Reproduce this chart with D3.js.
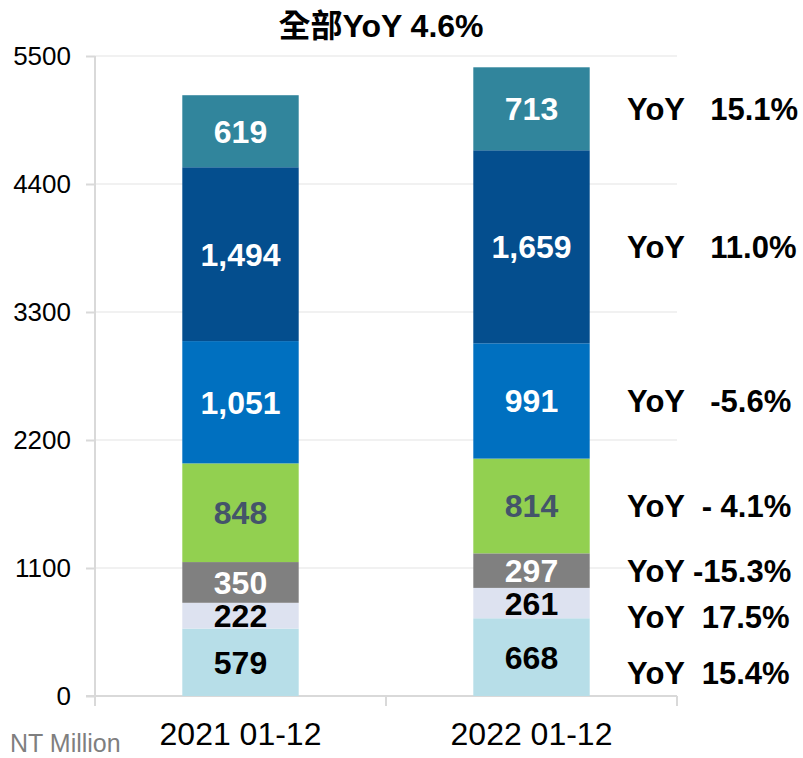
<!DOCTYPE html>
<html>
<head>
<meta charset="utf-8">
<script src="https://cdn.jsdelivr.net/npm/d3@7"></script>
<style>
  body { margin: 0; background: #fff; }
  text { font-family: "Liberation Sans", Arial, "Noto Sans CJK TC", sans-serif; }
</style>
</head>
<body>
<div id="chart"></div>
<script>
// Data
var categories = ["2021 01-12", "2022 01-12"];
var segments = ["s1", "s2", "s3", "s4", "s5", "s6", "s7"]; // bottom to top
var values2021 = [579, 222, 350, 848, 1051, 1494, 619];
var values2022 = [668, 261, 297, 814, 991, 1659, 713];
var yoyLabels = ["YoY  15.4%", "YoY  17.5%", "YoY -15.3%", "YoY  - 4.1%", "YoY   -5.6%", "YoY   11.0%", "YoY   15.1%"];
var yTicks = [0, 1100, 2200, 3300, 4400, 5500];
var title = "全部YoY 4.6%";
var unitLabel = "NT Million";

var colors = ["#b7dee8", "#dde2f0", "#808080", "#92d050", "#0070c0", "#044e8e", "#31859c"];
var labelColors = ["#000", "#000", "#fff", "#44546a", "#fff", "#fff", "#fff"];

var svgWidth = 803;
var svgHeight = 758;
var margin = { top: 56, right: 126, bottom: 62, left: 95 };
var width = svgWidth - margin.left - margin.right;
var height = svgHeight - margin.top - margin.bottom;

var svg = d3.select("#chart")
    .append("svg")
    .attr("width", svgWidth)
    .attr("height", svgHeight);

var chartGroup = svg.append("g")
    .attr("transform", `translate(${margin.left}, ${margin.top})`);

// table for stacking
var rows = categories.map(function (c, i) {
    var row = { cat: c };
    var vals = i === 0 ? values2021 : values2022;
    segments.forEach(function (s, j) { row[s] = vals[j]; });
    return row;
});
var stacked = d3.stack().keys(segments)(rows);

// scales
var xScale = d3.scaleBand().domain(categories).range([0, width])
    .paddingInner(0.6).paddingOuter(0.3);
var yScale = d3.scaleLinear().domain([0, 5500]).range([height, 0]);

// gridlines
chartGroup.append("g")
    .selectAll("line")
    .data(yTicks)
    .enter()
    .append("line")
    .attr("x1", 0)
    .attr("x2", width)
    .attr("y1", d => yScale(d))
    .attr("y2", d => yScale(d))
    .attr("stroke", "#ededed")
    .attr("stroke-width", 1.5);

// y axis
var leftAxis = d3.axisLeft(yScale).tickValues(yTicks).tickFormat(d3.format("d"))
    .tickSize(9).tickPadding(15);
var yAxisG = chartGroup.append("g").call(leftAxis);
yAxisG.select(".domain").attr("stroke", "#d9d9d9").attr("stroke-width", 2).attr("d", `M0,0V${height}`);
yAxisG.selectAll(".tick line").attr("stroke", "#d9d9d9").attr("stroke-width", 2);
yAxisG.selectAll(".tick text")
    .attr("font-size", 26)
    .attr("fill", "#000")
    .style("font-family", "'Liberation Sans', Arial, sans-serif");

// x axis line and boundary ticks
var step = xScale.step();
var bounds = [0, step, 2 * step];
chartGroup.append("line")
    .attr("x1", -9).attr("x2", width)
    .attr("y1", height).attr("y2", height)
    .attr("stroke", "#d9d9d9").attr("stroke-width", 2);
chartGroup.append("g")
    .selectAll("line")
    .data(bounds)
    .enter()
    .append("line")
    .attr("x1", d => d).attr("x2", d => d)
    .attr("y1", height).attr("y2", height + 10)
    .attr("stroke", "#d9d9d9").attr("stroke-width", 2);

// category labels
chartGroup.append("g")
    .selectAll("text")
    .data(categories)
    .enter()
    .append("text")
    .attr("x", d => xScale(d) + xScale.bandwidth() / 2)
    .attr("y", height + 49)
    .attr("text-anchor", "middle")
    .attr("font-size", 32)
    .attr("fill", "#000")
    .text(d => d);

// bars
var layers = chartGroup.selectAll(".layer")
    .data(stacked)
    .enter()
    .append("g")
    .attr("fill", (d, i) => colors[i]);

layers.selectAll("rect")
    .data(d => d)
    .enter()
    .append("rect")
    .attr("x", d => xScale(d.data.cat))
    .attr("y", d => yScale(d[1]))
    .attr("width", xScale.bandwidth())
    .attr("height", d => yScale(d[0]) - yScale(d[1]));

// value labels
stacked.forEach(function (layer, i) {
    chartGroup.append("g")
        .selectAll("text")
        .data(layer)
        .enter()
        .append("text")
        .attr("x", d => xScale(d.data.cat) + xScale.bandwidth() / 2)
        .attr("y", d => yScale((d[0] + d[1]) / 2))
        .attr("dy", "0.36em")
        .attr("text-anchor", "middle")
        .attr("font-size", 32)
        .attr("font-weight", "bold")
        .attr("fill", labelColors[i])
        .text(d => d3.format(",")(d[1] - d[0]));
});

// YoY labels next to the 2022 bar, pushed down so they don't overlap
var last = stacked.map(l => l[1]);
var mids = last.map(d => yScale((d[0] + d[1]) / 2));
var ys = mids.slice();
for (var i = ys.length - 2; i >= 0; i--) {
    ys[i] = Math.max(ys[i], ys[i + 1] + 46);
}
ys[0] = Math.max(ys[0], mids[0] + 16);
chartGroup.append("g")
    .selectAll("text")
    .data(yoyLabels)
    .enter()
    .append("text")
    .attr("x", width - 50)
    .attr("y", (d, i) => ys[i])
    .attr("dy", "0.36em")
    .attr("font-size", 31)
    .attr("font-weight", "bold")
    .attr("fill", "#000")
    .style("white-space", "pre")
    .text(d => d);

// title
svg.append("text")
    .attr("x", 381)
    .attr("y", 37)
    .attr("text-anchor", "middle")
    .attr("font-size", 32)
    .attr("font-weight", "bold")
    .attr("fill", "#000")
    .text(title);

// units
svg.append("text")
    .attr("x", 10)
    .attr("y", 752)
    .attr("font-size", 25)
    .attr("fill", "#7f7f7f")
    .text(unitLabel);
</script>
</body>
</html>
